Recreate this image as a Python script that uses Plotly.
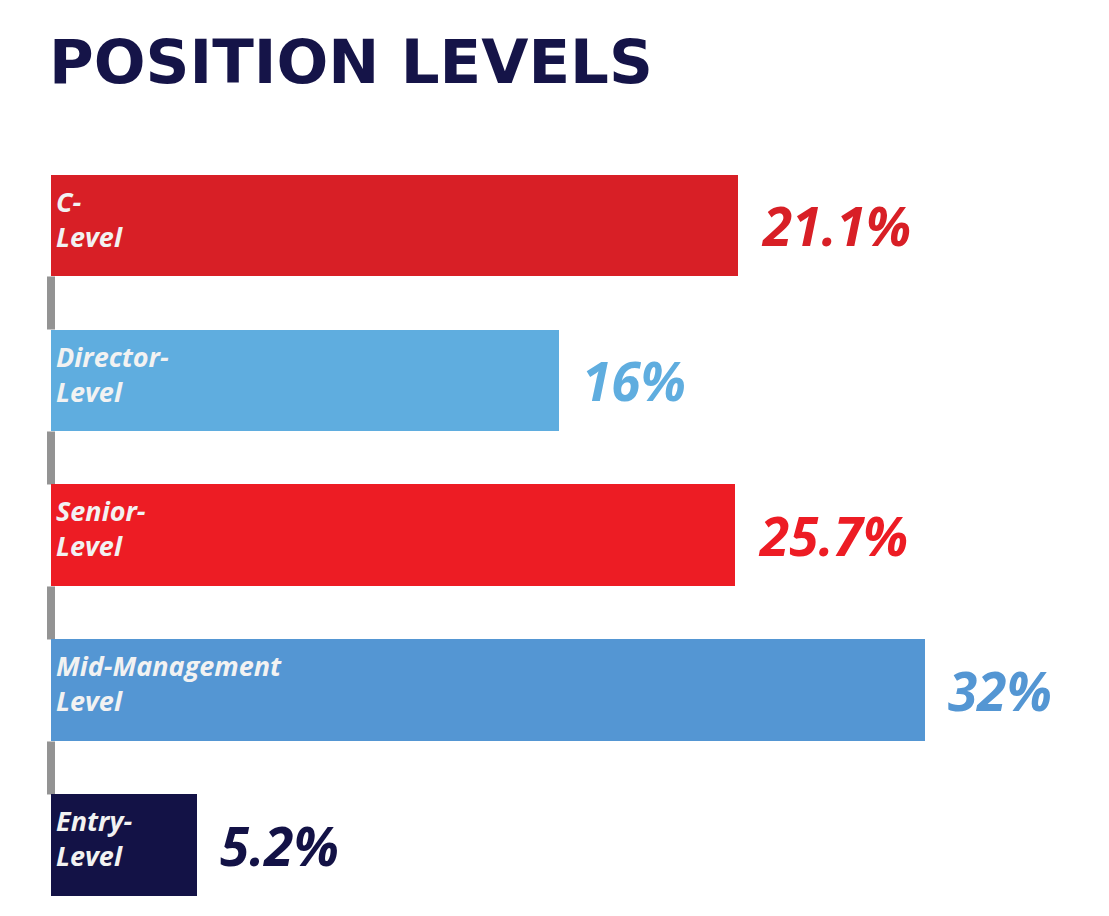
import plotly.graph_objects as go

# position levels, top to bottom
levels = ["C-<br>Level", "Director-<br>Level", "Senior-<br>Level",
          "Mid-Management<br>Level", "Entry-<br>Level"]
value_labels = ["21.1%", "16%", "25.7%", "32%", "5.2%"]
# drawn bar lengths (in % units of the 32% bar)
bar_length = [25.16, 18.6, 25.05, 32.0, 5.35]
colors = ["#D81F26", "#5FADDF", "#ED1C24", "#5496D3", "#131246"]

pos = list(range(len(levels)))
px_per_unit = 27.31
bar_w = 0.658

fig = go.Figure()
fig.add_trace(go.Bar(
    x=bar_length, y=pos, orientation="h", width=bar_w,
    marker=dict(color=colors, line_width=0), hoverinfo="skip",
))

# grey connector pieces in the gaps between bars, on the left edge
for i in pos[:-1]:
    fig.add_shape(type="rect", xref="x", yref="y",
                  x0=-4 / px_per_unit, x1=4 / px_per_unit,
                  y0=i + bar_w / 2, y1=i + 1 - bar_w / 2,
                  fillcolor="#939393", line_width=0, layer="below")

for i, (lab, val, ln, col) in enumerate(zip(levels, value_labels, bar_length, colors)):
    fig.add_annotation(x=0, y=i - bar_w / 2, text=lab, showarrow=False,
                       xanchor="left", yanchor="top", align="left",
                       xshift=3, yshift=-6,
                       font=dict(family="Open Sans", size=27, color="#F2F2F2",
                                 weight="bold", style="italic"))
    fig.add_annotation(x=ln, y=i, text=val, showarrow=False,
                       xanchor="left", yanchor="middle", xshift=21, yshift=0,
                       font=dict(family="Open Sans", size=53, color=col,
                                 weight="bold", style="italic"))

fig.add_annotation(xref="paper", yref="paper", x=0, y=1, text="POSITION LEVELS",
                   showarrow=False, xanchor="left", yanchor="top",
                   yshift=124,
                   font=dict(family="DejaVu Sans", size=61, color="#151448",
                             weight="bold"))

fig.update_xaxes(range=[-4 / px_per_unit, 38.74], visible=False, fixedrange=True)
fig.update_yaxes(range=[4.455, -0.5], visible=False, fixedrange=True)
fig.update_layout(
    width=1109, height=916,
    margin=dict(l=39, r=8, t=140, b=8),
    paper_bgcolor="white", plot_bgcolor="white",
    showlegend=False, bargap=0,
)

fig.write_html("out.html")
